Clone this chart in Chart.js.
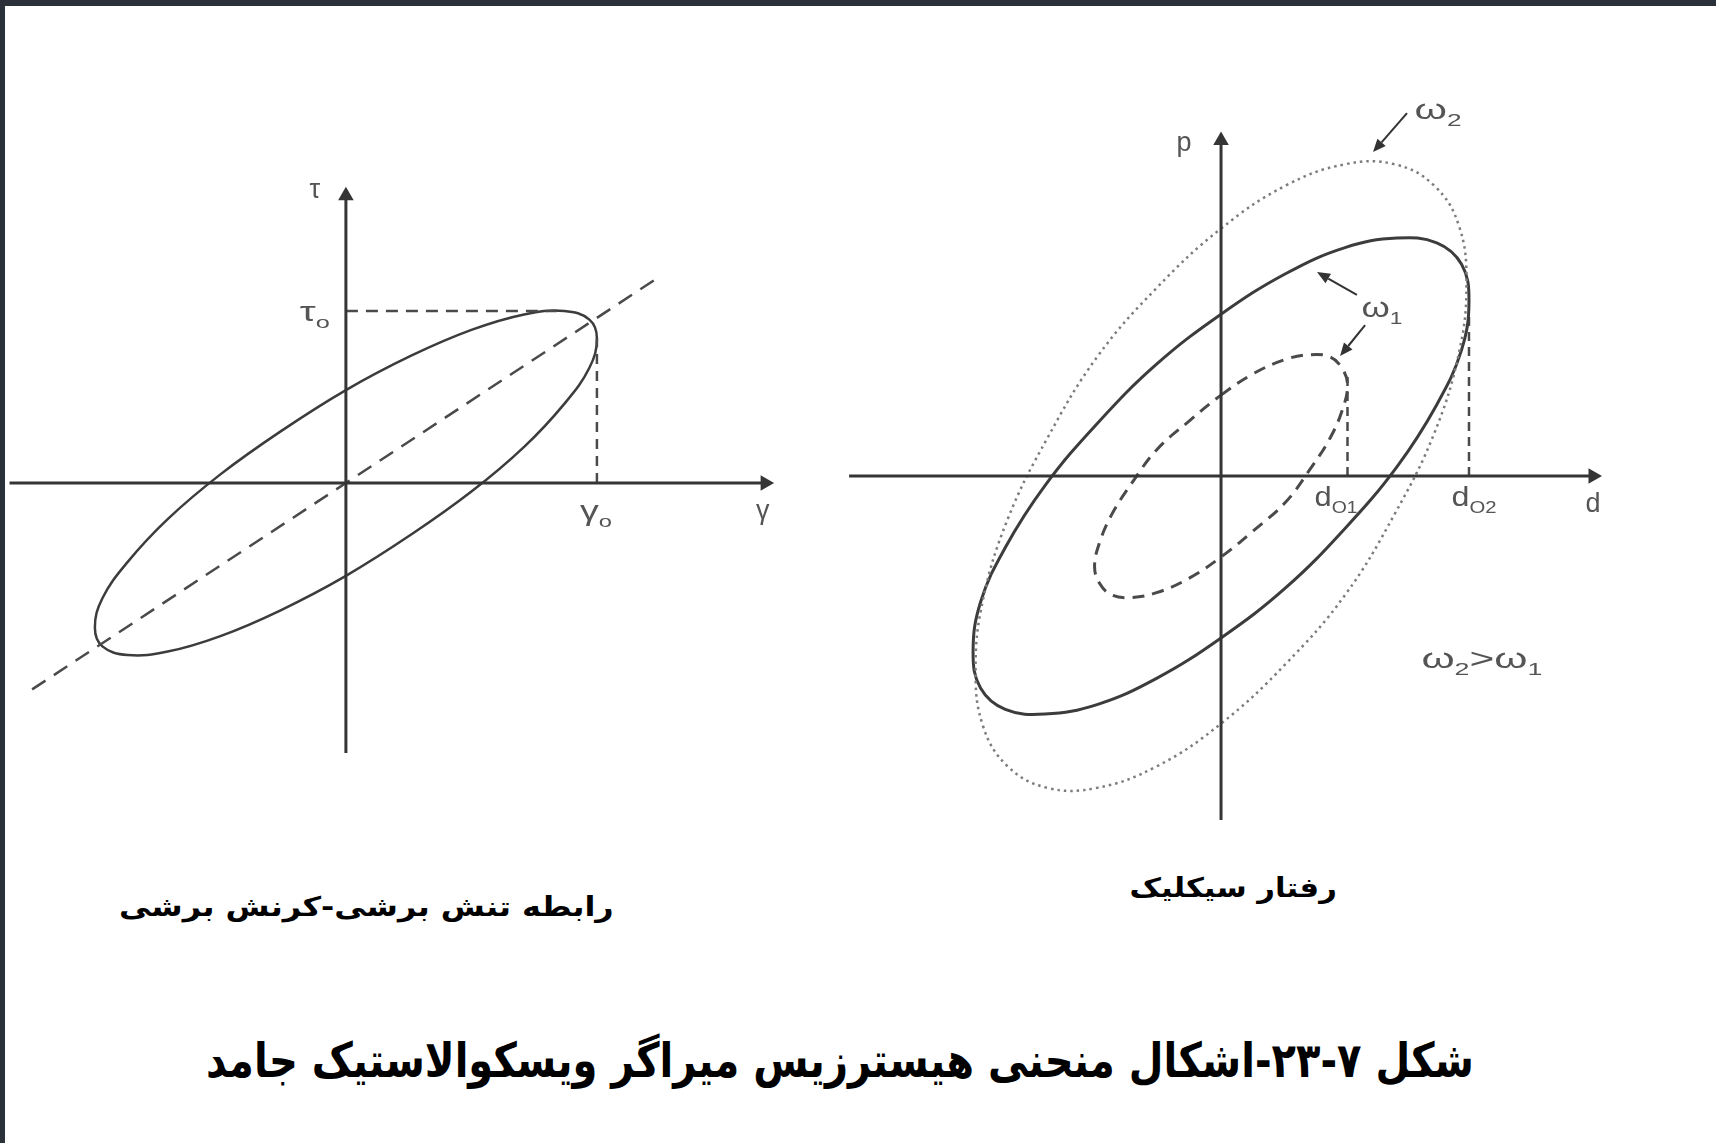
<!DOCTYPE html>
<html lang="fa">
<head>
<meta charset="utf-8">
<title>منحنی هیسترزیس میراگر ویسکوالاستیک</title>
<script src="https://cdn.jsdelivr.net/npm/chart.js@4.4.1/dist/chart.umd.min.js"></script>
<style>
  html, body { margin: 0; padding: 0; background: #fff; }
  body { width: 1716px; height: 1143px; position: relative; overflow: hidden; }
  .frame-top { position: absolute; left: 0; top: 0; width: 1716px; height: 6px; background: #2b3139; }
  .frame-left { position: absolute; left: 0; top: 0; width: 5px; height: 1143px; background: #2b3139; }
  canvas { position: absolute; filter: blur(0.5px); }
  #shear { left: 0; top: 150px; }
  #cyclic { left: 830px; top: 90px; }
  .cap { position: absolute; direction: rtl; white-space: nowrap; font-family: "DejaVu Sans", sans-serif; color: #000; transform-origin: center center; }
  #capShear { font-size: 27px; font-weight: bold; }
  #capCyclic { font-size: 27px; font-weight: bold; }
  #capMain { font-size: 48px; font-weight: bold; }
</style>
</head>
<body>
<div class="frame-top"></div>
<div class="frame-left"></div>
<canvas id="shear" width="800" height="640"></canvas>
<canvas id="cyclic" width="820" height="760"></canvas>
<div class="cap" id="capShear">رابطه تنش برشی-کرنش برشی</div>
<div class="cap" id="capCyclic">رفتار سیکلیک</div>
<div class="cap" id="capMain">شکل ۷&#x200F;-۲۳-اشکال منحنی هیسترزیس میراگر ویسکوالاستیک جامد</div>

<script>
// --- shear stress / shear strain loop, in units of gamma0 and tau0 ---
const GAMMA0 = 1;
const TAU0 = 1;
const gammaLoop = [0, 0.26, 0.5, 0.71, 0.87, 0.97, 1, 0.97, 0.87, 0.71, 0.5, 0.26,
                   0, -0.26, -0.5, -0.71, -0.87, -0.97, -1, -0.97, -0.87, -0.71, -0.5, -0.26];
const tauLoop = [0.54, 0.74, 0.89, 0.98, 1, 0.95, 0.84, 0.67, 0.46, 0.21, -0.05, -0.3,
                 -0.54, -0.74, -0.89, -0.98, -1, -0.95, -0.84, -0.67, -0.46, -0.21, 0.05, 0.3];
// elastic line through the origin and the (gamma0, tau0) corner
const elasticGamma = [-1.25, 1.25];
const elasticTau = [-1.2, 1.2];

// --- cyclic force / displacement loops, in units of d02 ---
const D01 = 0.51;
const D02 = 1;
const loopW1D = [0, 0.26, 0.5, 0.71, 0.87, 0.97, 1, 0.97, 0.87, 0.71, 0.5, 0.26,
                 0, -0.26, -0.5, -0.71, -0.87, -0.97, -1, -0.97, -0.87, -0.71, -0.5, -0.26];
const loopW1P = [0.68, 0.85, 0.96, 1, 0.98, 0.89, 0.74, 0.53, 0.3, 0.04, -0.22, -0.47,
                 -0.68, -0.85, -0.96, -1, -0.98, -0.89, -0.74, -0.53, -0.3, -0.04, 0.22, 0.47];
const smallW1D = [0, 0.13, 0.26, 0.36, 0.44, 0.49, 0.51, 0.49, 0.44, 0.36, 0.26, 0.13,
                  0, -0.13, -0.26, -0.36, -0.44, -0.49, -0.51, -0.49, -0.44, -0.36, -0.26, -0.13];
const smallW1P = [0.34, 0.43, 0.49, 0.51, 0.5, 0.45, 0.38, 0.28, 0.16, 0.03, -0.11, -0.23,
                  -0.34, -0.43, -0.49, -0.51, -0.5, -0.45, -0.38, -0.28, -0.16, -0.03, 0.11, 0.23];
const loopW2D = [0, 0.26, 0.5, 0.7, 0.86, 0.96, 0.99, 0.96, 0.86, 0.7, 0.5, 0.26,
                 0, -0.26, -0.5, -0.7, -0.86, -0.96, -0.99, -0.96, -0.86, -0.7, -0.5, -0.26];
const loopW2P = [1.04, 1.22, 1.31, 1.31, 1.22, 1.05, 0.81, 0.52, 0.18, -0.16, -0.5, -0.79,
                 -1.04, -1.22, -1.31, -1.31, -1.22, -1.05, -0.81, -0.52, -0.18, 0.16, 0.5, 0.79];

const INK = '#3c3c3c';
const AXIS = '#353535';
const DOTS = '#7c7c7c';
const TEXT = '#555';

// closed smooth loop: pad both ends so the spline has neighbours at the seam,
// then hide the two padding segments
function loopDataset(xs, ys, style) {
  const n = xs.length;
  const pts = xs.map((x, i) => ({ x: x, y: ys[i] }));
  const color = style.borderColor;
  return Object.assign({
    data: [pts[n - 1]].concat(pts, [pts[0], pts[1]]),
    showLine: true,
    tension: 0.4,
    pointRadius: 0,
    fill: false,
    segment: {
      borderColor: ctx => (ctx.p0DataIndex === 0 || ctx.p0DataIndex === n + 1) ? 'rgba(0,0,0,0)' : color
    }
  }, style);
}

function lineDataset(xs, ys, style) {
  return Object.assign({
    data: xs.map((x, i) => ({ x: x, y: ys[i] })),
    showLine: true,
    tension: 0,
    pointRadius: 0,
    fill: false
  }, style);
}

// axis with a filled arrowhead at its far end
function axisDataset(xs, ys, rotation) {
  return lineDataset(xs, ys, {
    borderColor: AXIS,
    borderWidth: 3,
    pointRadius: [0, 9],
    pointStyle: 'triangle',
    pointRotation: [0, rotation],
    pointBackgroundColor: AXIS,
    pointBorderWidth: 0
  });
}

function drawPointer(ctx, x0, y0, x1, y1) {
  const ang = Math.atan2(y1 - y0, x1 - x0);
  const head = 13, half = 5.5;
  const bx = x1 - head * Math.cos(ang), by = y1 - head * Math.sin(ang);
  ctx.beginPath();
  ctx.moveTo(x0, y0);
  ctx.lineTo(bx, by);
  ctx.stroke();
  ctx.beginPath();
  ctx.moveTo(x1, y1);
  ctx.lineTo(bx + half * Math.sin(ang), by - half * Math.cos(ang));
  ctx.lineTo(bx - half * Math.sin(ang), by + half * Math.cos(ang));
  ctx.closePath();
  ctx.fill();
}

// symbol labels (with subscripts) and pointer arrows, placed in data units
function figureLabels(items, arrows) {
  return {
    id: 'figureLabels',
    afterDatasetsDraw(chart) {
      const { ctx, scales: { x, y } } = chart;
      ctx.save();
      ctx.strokeStyle = '#333';
      ctx.fillStyle = '#333';
      ctx.lineWidth = 2;
      arrows.forEach(a => {
        drawPointer(ctx, x.getPixelForValue(a.from[0]), y.getPixelForValue(a.from[1]),
                    x.getPixelForValue(a.to[0]), y.getPixelForValue(a.to[1]));
      });
      ctx.fillStyle = TEXT;
      ctx.textBaseline = 'middle';
      ctx.textAlign = 'left';
      items.forEach(item => {
        const size = item.size || 27;
        const fonts = [size + 'px "Liberation Sans", Arial, sans-serif',
                       Math.round(size * 0.62) + 'px "Liberation Sans", Arial, sans-serif'];
        let total = 0;
        const widths = item.parts.map(p => {
          ctx.font = fonts[p[1]];
          const w = ctx.measureText(p[0]).width;
          total += w;
          return w;
        });
        const sx = item.w ? item.w / total : 1;
        const cx = x.getPixelForValue(item.x);
        const cy = y.getPixelForValue(item.y);
        ctx.save();
        ctx.translate(cx, cy);
        ctx.scale(sx, 1);
        let pos = -total / 2;
        item.parts.forEach((p, i) => {
          ctx.font = fonts[p[1]];
          ctx.fillText(p[0], pos, p[1] ? size * 0.3 : -size * 0.05);
          pos += widths[i];
        });
        ctx.restore();
      });
      ctx.restore();
    }
  };
}

const baseOptions = (xr, yr) => ({
  responsive: false,
  animation: false,
  devicePixelRatio: 1,
  layout: { padding: 0, autoPadding: false },
  plugins: { legend: { display: false }, tooltip: { enabled: false } },
  scales: {
    x: { type: 'linear', min: xr[0], max: xr[1], display: false },
    y: { type: 'linear', min: yr[0], max: yr[1], display: false }
  }
});

// left figure: tau-gamma hysteresis
new Chart(document.getElementById('shear'), {
  type: 'scatter',
  data: {
    datasets: [
      axisDataset([-1.34, 1.67], [0, 0], 90),
      axisDataset([0, 0], [-1.57, 1.67], 0),
      lineDataset(elasticGamma, elasticTau, { borderColor: '#4a4a4a', borderWidth: 2.5, borderDash: [16, 10] }),
      lineDataset([0, 0.84], [TAU0, TAU0], { borderColor: '#4a4a4a', borderWidth: 2.5, borderDash: [12, 8] }),
      lineDataset([GAMMA0, GAMMA0], [0, 0.84], { borderColor: '#4a4a4a', borderWidth: 2.5, borderDash: [10, 7] }),
      loopDataset(gammaLoop, tauLoop, { borderColor: INK, borderWidth: 2.5 })
    ]
  },
  options: baseOptions([-1.378, 1.809], [-1.785, 1.936]),
  plugins: [figureLabels([
    { x: -0.124, y: 1.69, parts: [['τ', 0]] },
    { x: -0.124, y: 0.975, parts: [['τ', 0], ['o', 1]], w: 30 },
    { x: 0.996, y: -0.18, parts: [['γ', 0], ['o', 1]], w: 32 },
    { x: 1.661, y: -0.175, parts: [['γ', 0]] }
  ], [])]
});

// right figure: cyclic p-d loops at two frequencies
new Chart(document.getElementById('cyclic'), {
  type: 'scatter',
  data: {
    datasets: [
      axisDataset([-1.5, 1.5], [0, 0], 90),
      axisDataset([0, 0], [-1.445, 1.41], 0),
      loopDataset(loopW2D, loopW2P, { borderColor: DOTS, borderWidth: 2.5, borderDash: [2.5, 4] }),
      loopDataset(loopW1D, loopW1P, { borderColor: INK, borderWidth: 3 }),
      loopDataset(smallW1D, smallW1P, { borderColor: '#4a4a4a', borderWidth: 3, borderDash: [12, 8] }),
      lineDataset([D01, D01], [0, 0.42], { borderColor: '#4a4a4a', borderWidth: 2.5, borderDash: [9, 6] }),
      lineDataset([D02, D02], [0, 0.68], { borderColor: '#4a4a4a', borderWidth: 2.5, borderDash: [9, 6] })
    ]
  },
  options: baseOptions([-1.577, 1.73], [-1.571, 1.622]),
  plugins: [figureLabels([
    { x: -0.149, y: 1.39, parts: [['p', 0]] },
    { x: 1.5, y: -0.126, parts: [['d', 0]] },
    { x: 0.464, y: -0.1, parts: [['d', 0], ['O1', 1]], w: 43 },
    { x: 1.02, y: -0.1, parts: [['d', 0], ['O2', 1]], w: 45 },
    { x: 0.649, y: 0.693, parts: [['ω', 0], ['1', 1]], w: 41 },
    { x: 0.875, y: 1.525, parts: [['ω', 0], ['2', 1]], w: 47 },
    { x: 1.052, y: -0.782, parts: [['ω', 0], ['2', 1], ['>', 0], ['ω', 0], ['1', 1]], w: 121 }
  ], [
    { from: [0.75, 1.525], to: [0.613, 1.361] },
    { from: [0.548, 0.761], to: [0.387, 0.857] },
    { from: [0.581, 0.634], to: [0.48, 0.504] }
  ])]
});

// captions: centre each one and stretch it to its line width
function placeCaption(id, cx, cy, width) {
  const el = document.getElementById(id);
  const w = el.offsetWidth, h = el.offsetHeight;
  el.style.left = (cx - w / 2) + 'px';
  el.style.top = (cy - h / 2) + 'px';
  el.style.transform = 'scaleX(' + (width / w) + ')';
}
placeCaption('capShear', 366, 906, 495);
placeCaption('capCyclic', 1233, 887, 207);
placeCaption('capMain', 840, 1060, 1268);
</script>
</body>
</html>
